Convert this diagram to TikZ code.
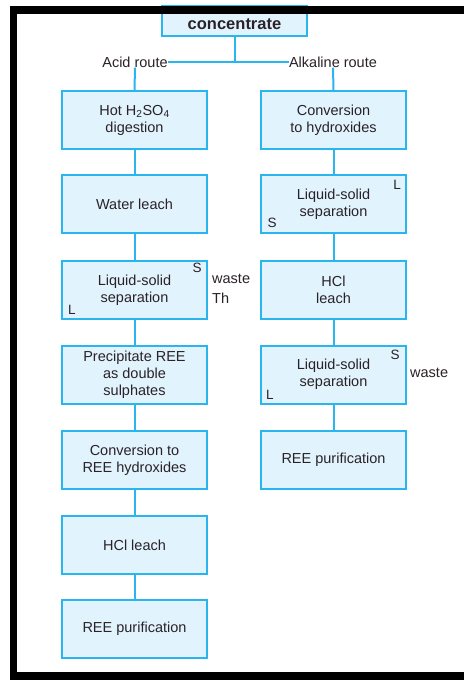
\documentclass[tikz,border=0pt]{standalone}
\usepackage{fontspec}
\setmainfont{Liberation Sans}
\definecolor{boxfill}{HTML}{E1F3FC}
\definecolor{boxline}{HTML}{2BB5EE}
\definecolor{txt}{HTML}{2A2228}
\begin{document}
\begin{tikzpicture}[x=1pt,y=-1pt,
  pbox/.style={draw=boxline,fill=boxfill,line width=2pt,minimum width=145pt,minimum height=58pt,
    align=center,inner sep=0pt,text=txt,font=\fontsize{14.5}{17}\selectfont},
  conn/.style={draw=boxline,line width=2pt},
  lab/.style={text=txt,inner sep=0pt,font=\fontsize{14.5}{17}\selectfont},
  sl/.style={text=txt,inner sep=0pt,font=\fontsize{13.5}{16}\selectfont}]
\useasboundingbox (0,0) rectangle (464,680);
\fill[white] (0,0) rectangle (464,680);
% concentrate
\node[pbox,minimum width=145pt,minimum height=30pt,text height=17pt,text depth=0pt,font=\bfseries\fontsize{16.5}{18}\selectfont] (conc) at (234.5,21) {concentrate};
\node[lab,anchor=center] (acid) at (135,62) {Acid route};
\node[lab,anchor=center] (alk) at (333,62) {Alkaline route};
% left column
\node[pbox] (l1) at (134.5,120) {Hot H\textsubscript{2}SO\textsubscript{4}\\digestion};
\node[pbox] (l2) at (134.5,204) {Water leach};
\node[pbox] (l3) at (134.5,290) {Liquid-solid\\separation};
\node[pbox] (l4) at (134.5,374.5) {Precipitate REE\\as double\\sulphates};
\node[pbox] (l5) at (134.5,460) {Conversion to\\REE hydroxides};
\node[pbox] (l6) at (134.5,545) {HCl leach};
\node[pbox] (l7) at (134.5,628.5) {REE purification};
% right column
\node[pbox] (r1) at (333.5,120) {Conversion\\to hydroxides};
\node[pbox] (r2) at (333.5,204) {Liquid-solid\\separation};
\node[pbox] (r3) at (333.5,290) {HCl\\leach};
\node[pbox] (r4) at (333.5,374.5) {Liquid-solid\\separation};
\node[pbox] (r5) at (333.5,460) {REE purification};
% S / L labels
\node[sl] (l3s) at (197,268) {S};
\node[sl] (l3l) at (72,310) {L};
\node[sl] (r2l) at (397,185) {L};
\node[sl] (r2s) at (272,223) {S};
\node[sl] (r4s) at (395,355) {S};
\node[sl] (r4l) at (270,395) {L};
\node[lab,anchor=west] (w1) at (212,279) {waste};
\node[lab,anchor=west] (th) at (212,298) {Th};
\node[lab,anchor=west] (w2) at (410,373) {waste};
% connectors
\coordinate (split) at (234.5,62);
\draw[conn] (conc.south) -- (split);
\draw[conn] (acid.east) -- (alk.west);
\draw[conn] (acid.south) -- (l1.north);
\draw[conn] (alk.south) -- (r1.north);
\draw[conn] (l1) -- (l2);
\draw[conn] (l2) -- (l3);
\draw[conn] (l3) -- (l4);
\draw[conn] (l4) -- (l5);
\draw[conn] (l5) -- (l6);
\draw[conn] (l6) -- (l7);
\draw[conn] (r1) -- (r2);
\draw[conn] (r2) -- (r3);
\draw[conn] (r3) -- (r4);
\draw[conn] (r4) -- (r5);
% black frame
\fill[black] (10,6) rectangle (464,14);
\fill[black] (10,6) rectangle (17,680);
\fill[black] (10,672) rectangle (464,680);
\end{tikzpicture}
\end{document}
